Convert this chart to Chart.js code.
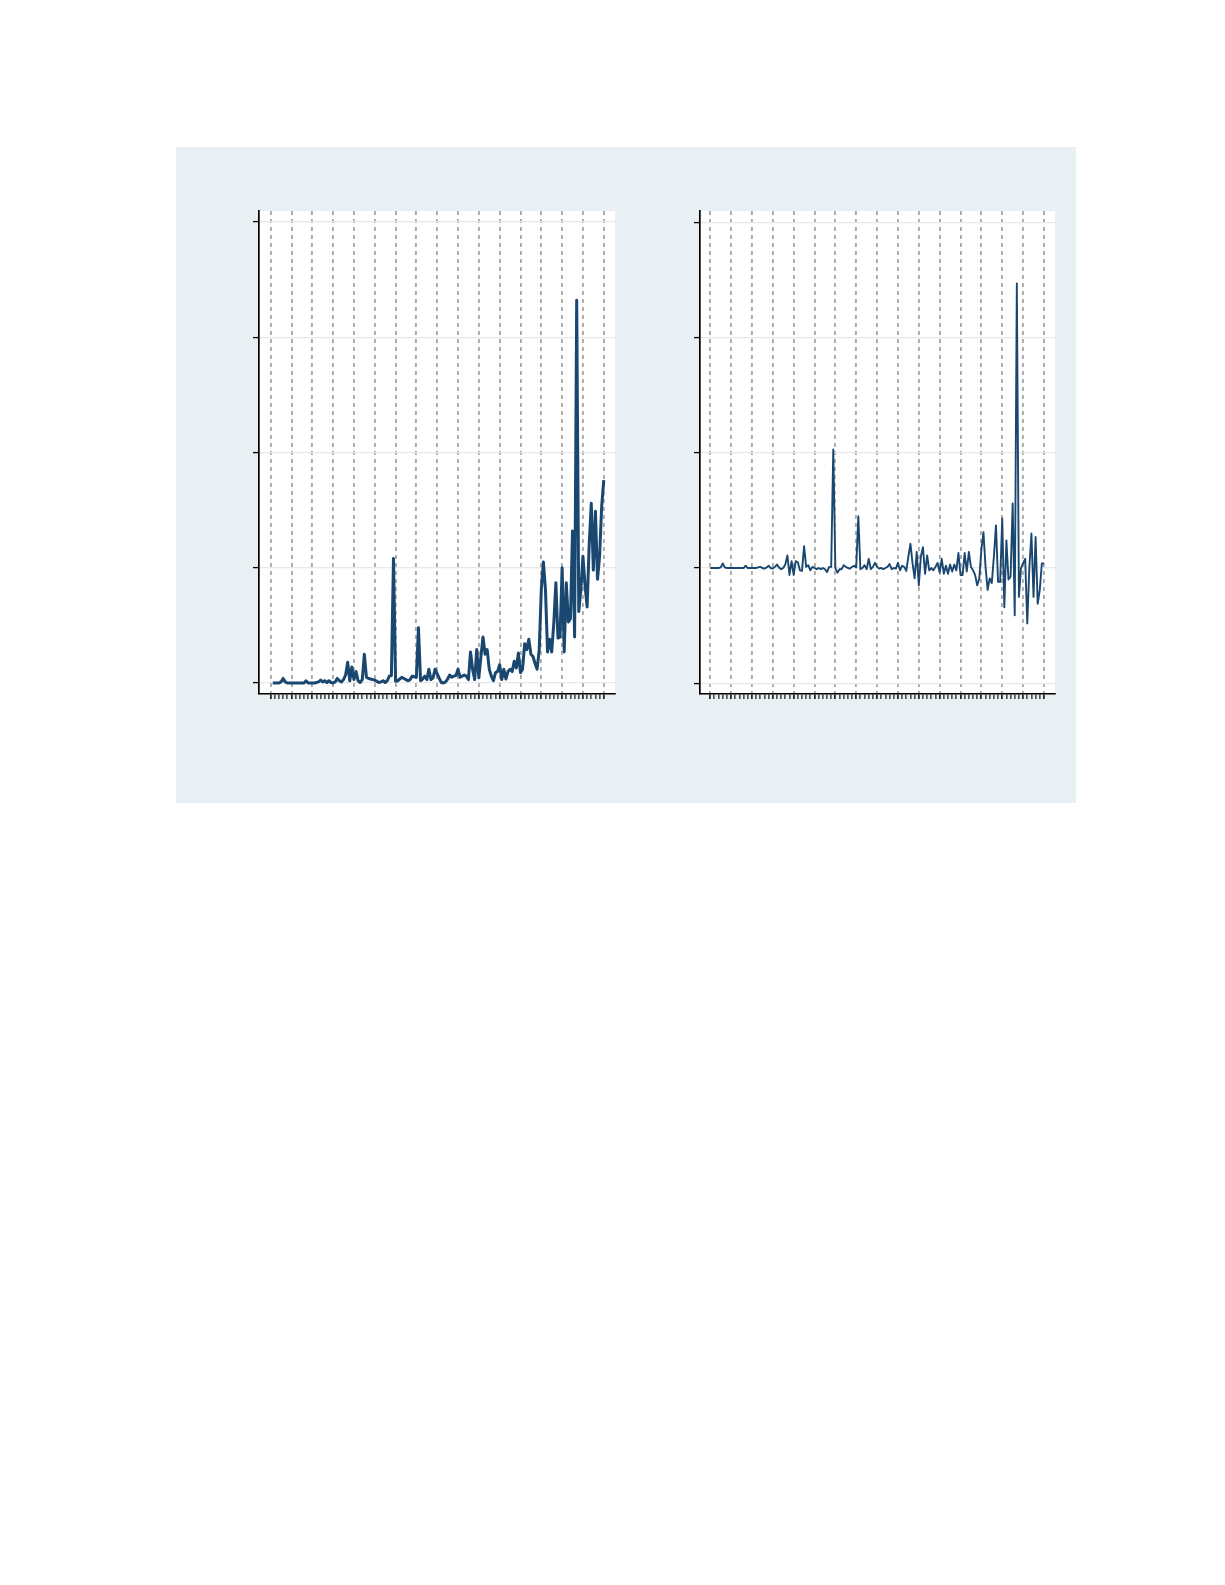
<!DOCTYPE html>
<html>
<head>
<meta charset="utf-8">
<script src="https://cdn.jsdelivr.net/npm/chart.js@4.4.1/dist/chart.umd.min.js"></script>
<style>
  html, body { margin: 0; padding: 0; background: #ffffff; }
  body { width: 1225px; height: 1585px; position: relative; font-family: "DejaVu Sans", sans-serif; }
  #region { position: absolute; left: 176px; top: 147px; width: 900px; height: 656px; background: #e8f0f3; }
  canvas { position: absolute; }
  #left { left: 240px; top: 200px; }
  #right { left: 680px; top: 200px; }
</style>
</head>
<body>
<div id="region"></div>
<canvas id="left" width="380" height="510"></canvas>
<canvas id="right" width="380" height="510"></canvas>
<script>
// time index (half-unit periods)
const periods = [
  0,1,2,3,4,5,6,7,8,9,
  10,11,12,13,14,15,16,17,18,19,
  20,21,22,23,24,25,26,27,28,29,
  30,31,32,33,34,35,36,37,38,39,
  40,41,42,43,44,45,46,47,48,49,
  50,51,52,53,54,55,56,57,58,59,
  60,61,62,63,64,65,66,67,68,69,
  70,71,72,73,74,75,76,77,78,79,
  80,81,82,83,84,85,86,87,88,89,
  90,91,92,93,94,95,96,97,98,99,
  100,101,102,103,104,105,106,107,108,109,
  110,111,112,113,114,115,116,117,118,119,
  120,121,122,123,124,125,126,127,128,129,
  130,131,132,133,134,135,136,137,138,139,
  140,141,142,143,144,145,146,147,148,149,
  150,151,152,153,154,155,156,157,158,159,160
];

// left panel series (level)
const levelSeries = [
  null,0,0,0,0,0.01,0.04,0.01,0,0,
  0,0,0,0,0,0,0,0.02,0,0,
  0,0,0.005,0.01,0.025,0.01,0.02,0.005,0.02,0.005,
  0,0.01,0.04,0.02,0.01,0.03,0.07,0.18,0.02,0.14,
  0.03,0.10,0.02,0.005,0.03,0.25,0.05,0.04,0.035,0.03,
  0.025,0.015,0.005,0.01,0.02,0.005,0.02,0.06,0.065,1.08,
  0.015,0.02,0.035,0.05,0.04,0.03,0.02,0.03,0.06,0.055,
  0.05,0.48,0.02,0.035,0.06,0.03,0.12,0.03,0.045,0.12,
  0.08,0.04,0.005,0,0.01,0.035,0.07,0.05,0.06,0.065,
  0.12,0.05,0.06,0.07,0.06,0.03,0.27,0.12,0.03,0.29,
  0.045,0.23,0.40,0.25,0.29,0.12,0.06,0.02,0.09,0.10,
  0.16,0.03,0.12,0.035,0.10,0.12,0.10,0.19,0.13,0.26,
  0.09,0.12,0.34,0.29,0.38,0.25,0.23,0.17,0.12,0.29,
  0.81,1.05,0.81,0.27,0.38,0.27,0.52,0.87,0.39,0.40,
  1.0,0.27,0.87,0.53,0.56,1.32,0.40,3.32,0.62,0.81,
  1.10,0.85,0.66,1.20,1.56,0.98,1.49,0.90,1.10,1.53,1.76
];

// right panel series (change)
const changeSeries = [
  0,0,0,0,0,0.005,0.04,0.005,0,0,
  0,0,0,0,0,0,0,0.02,0,0,
  0,0,0,0.005,0.01,0,-0.005,0.005,0.02,0,
  -0.005,0.01,0.03,0.005,-0.01,0,0.03,0.11,-0.06,0.06,
  -0.06,0.06,0.05,-0.02,-0.025,0.19,0.01,0.025,-0.02,0.01,
  0,-0.01,0,-0.01,0,-0.01,-0.035,0.01,0.01,1.03,
  0,-0.04,-0.01,-0.01,0.025,0.01,0,-0.005,0.01,0.02,
  0.005,0.45,-0.01,0,0.025,-0.01,0.08,-0.01,0.01,0.045,
  0.01,-0.005,0,-0.01,0,0.01,0.035,-0.01,0,-0.005,
  0.045,-0.02,0.02,0.01,-0.025,0.10,0.21,0.04,-0.09,0.14,
  -0.15,0.10,0.18,-0.05,0.11,-0.02,0,-0.02,0.01,0.045,
  -0.04,0.08,-0.05,0.02,-0.05,0.03,-0.03,0.03,-0.02,0.13,
  -0.06,-0.06,0.13,-0.03,0.14,0.01,-0.02,-0.06,-0.15,-0.09,
  0.16,0.31,0.01,-0.19,-0.09,-0.13,0.10,0.37,-0.12,-0.12,
  0.43,-0.34,0.24,-0.10,-0.075,0.56,-0.41,2.47,-0.25,0,
  0.04,0.08,-0.48,0,0.30,-0.25,0.27,-0.31,-0.19,0.04,0.04
];

// tick positions
const xMajorTicks = [0,10,20,30,40,50,60,70,80,90,100,110,120,130,140,150,160];
const xAllTicks = [
  0,2,4,6,8,10,12,14,16,18,20,22,24,26,28,30,32,34,36,38,40,
  42,44,46,48,50,52,54,56,58,60,62,64,66,68,70,72,74,76,78,80,
  82,84,86,88,90,92,94,96,98,100,102,104,106,108,110,112,114,116,118,120,
  122,124,126,128,130,132,134,136,138,140,142,144,146,148,150,152,154,156,158,160
];
const yTicksLeft = [0,1,2,3,4];
const yTicksRight = [-1,0,1,2,3];

const NAVY = '#1a476f';

const plotBg = {
  id: 'plotBg',
  beforeDraw(chart) {
    const a = chart.chartArea;
    const c = chart.ctx;
    c.save();
    c.fillStyle = '#ffffff';
    c.fillRect(a.left, a.top, a.right - a.left, a.bottom - a.top);
    c.restore();
  }
};

function makeChart(id, values, yTicks, cfg) {
  const pts = periods.map((p, i) => ({ x: p, y: values[i] }));
  return new Chart(document.getElementById(id), {
    type: 'line',
    data: {
      datasets: [{
        data: pts,
        borderColor: NAVY,
        borderWidth: cfg.lineWidth,
        pointRadius: 0,
        tension: 0,
        fill: false,
        borderJoinStyle: 'round',
        spanGaps: false
      }]
    },
    options: {
      responsive: false,
      animation: false,
      devicePixelRatio: 1,
      layout: { padding: cfg.padding },
      plugins: { legend: { display: false }, tooltip: { enabled: false }, title: { display: false } },
      scales: {
        x: {
          type: 'linear',
          min: cfg.xMin,
          max: cfg.xMax,
          afterBuildTicks: s => { s.ticks = xAllTicks.map(v => ({ value: v })); },
          ticks: { display: false },
          grid: {
            color: ctx => (ctx.tick && xMajorTicks.includes(ctx.tick.value)) ? '#a6a6a6' : 'rgba(0,0,0,0)',
            lineWidth: 1.8,
            drawTicks: true,
            tickLength: 5,
            tickColor: '#000000',
            tickWidth: ctx => (ctx.tick && xMajorTicks.includes(ctx.tick.value)) ? 1.5 : 1.1
          },
          border: { display: true, color: '#000000', width: 1.6, dash: [4, 4] }
        },
        y: {
          type: 'linear',
          min: cfg.yMin,
          max: cfg.yMax,
          afterBuildTicks: s => { s.ticks = yTicks.map(v => ({ value: v })); },
          ticks: { display: false },
          grid: {
            color: '#e8e8e8',
            lineWidth: 1.2,
            drawTicks: true,
            tickLength: 6,
            tickColor: '#000000',
            tickWidth: 1.3
          },
          border: { display: true, color: '#000000', width: 1.7 }
        }
      }
    },
    plugins: [plotBg]
  });
}

makeChart('left', levelSeries, yTicksLeft, {
  lineWidth: 3,
  padding: { left: 13, right: 5, top: 11, bottom: 11 },
  xMin: -5.6, xMax: 165.4,
  yMin: -0.095, yMax: 4.095
});

makeChart('right', changeSeries, yTicksRight, {
  lineWidth: 1.9,
  padding: { left: 14, right: 5, top: 11, bottom: 11 },
  xMin: -4.9, xMax: 165.3,
  yMin: -1.093, yMax: 3.098
});
</script>
</body>
</html>
